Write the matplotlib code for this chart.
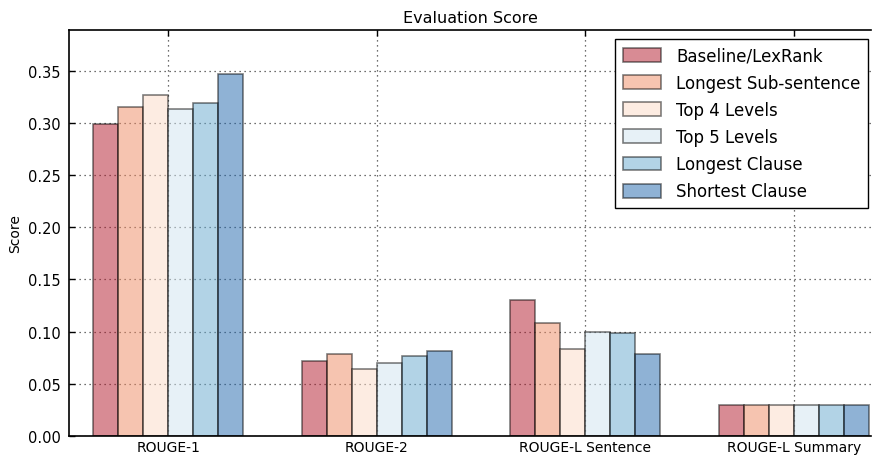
import matplotlib
matplotlib.use("Agg")
import matplotlib.pyplot as plt
import numpy as np

GROUPS = ["ROUGE-1", "ROUGE-2", "ROUGE-L Sentence", "ROUGE-L Summary"]
METHODS = ["Baseline/LexRank", "Longest Sub-sentence", "Top 4 Levels",
           "Top 5 Levels", "Longest Clause", "Shortest Clause"]
baseline = [0.299, 0.072, 0.130, 0.030]
longest_sub = [0.315, 0.079, 0.108, 0.030]
top4 = [0.327, 0.064, 0.083, 0.030]
top5 = [0.313, 0.070, 0.100, 0.030]
longest_clause = [0.319, 0.077, 0.099, 0.030]
shortest_clause = [0.347, 0.081, 0.079, 0.030]
SERIES = [baseline, longest_sub, top4, top5, longest_clause, shortest_clause]

# RdBu 6-class palette, drawn at half alpha
COLORS = ["#b2182b", "#ef8a62", "#fddbc7", "#d1e5f0", "#67a9cf", "#2166ac"]

plt.rcParams.update({
    "font.family": "DejaVu Sans",
    "xtick.direction": "in",
    "ytick.direction": "in",
    "xtick.top": True,
    "ytick.right": False,
})

fig = plt.figure(figsize=(8.73, 4.56), dpi=100)
ax = fig.add_axes([69 / 873, 19 / 456, 802 / 873, 406 / 456])

ind = np.arange(len(GROUPS))
width = 0.12
for i, (vals, col, name) in enumerate(zip(SERIES, COLORS, METHODS)):
    ax.bar(ind + (i - 2.5) * width, vals, width, color=col, alpha=0.5,
           edgecolor="black", linewidth=1.2, label=name, zorder=2)

ax.set_xlim(-0.476, 3.37)
ax.set_ylim(0, 0.389)
ax.set_xticks(ind)
ax.set_xticklabels(GROUPS, fontsize=10)
ax.set_yticks(np.arange(0, 0.36, 0.05))
ax.set_yticklabels([f"{v:.2f}" for v in np.arange(0, 0.36, 0.05)], fontsize=10.5)
ax.tick_params(length=4, width=1, pad=6)
ax.tick_params(axis="x", pad=3, bottom=False)
ax.set_ylabel("Score", fontsize=10)
ax.set_title("Evaluation Score", fontsize=11.5, pad=6)
ax.grid(True, color="0.25", ls=(0, (1, 3)), lw=0.9, zorder=0)
ax.set_axisbelow(True)
ax.spines["right"].set_visible(False)
for sp in ("left", "top", "bottom"):
    ax.spines[sp].set_linewidth(1.2)

leg = ax.legend(loc="upper right", bbox_to_anchor=(868 / 873, 416 / 456),
                bbox_transform=fig.transFigure, borderaxespad=0,
                fontsize=12, fancybox=False,
                framealpha=1, edgecolor="black", handlelength=2.3,
                handleheight=0.9, labelspacing=0.55, borderpad=0.45,
                handletextpad=0.9)
leg.get_frame().set_linewidth(1.0)

fig.savefig("out.png", dpi=100)
